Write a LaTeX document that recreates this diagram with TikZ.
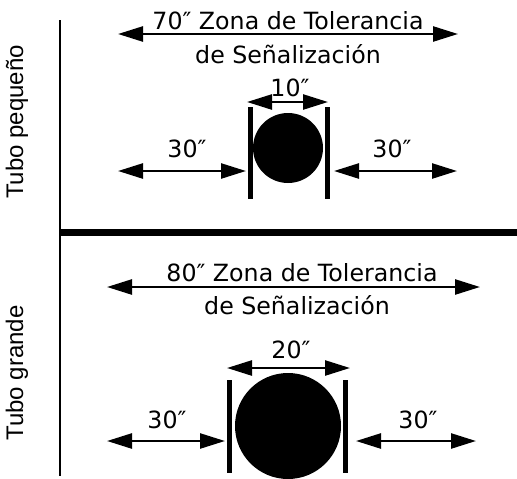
\documentclass[tikz,border=0pt]{standalone}
\usepackage{fontspec}
\setmainfont{DejaVu Sans}
\newfontfamily\labelfont{Liberation Sans}
\usetikzlibrary{arrows.meta}
\newcommand{\dprime}{″}
\begin{document}
\begin{tikzpicture}[x=1pt,y=-1pt,
  dim/.style={line width=2.5pt,{Triangle[length=25pt,width=15pt]}-{Triangle[length=25pt,width=15pt]}},
  bar/.style={line width=5pt},
  lbl/.style={font=\fontsize{23.7}{28}\selectfont,inner sep=0pt,anchor=base},
  side/.style={font=\labelfont\fontsize{24}{28}\selectfont,inner sep=0pt,rotate=90},
  pipe/.style={fill=black,draw=none}]
\useasboundingbox (0,0) rectangle (517,479);
% frame
\coordinate (vt) at (60,20);
\coordinate (vb) at (60,476);
\coordinate (hl) at (60,232);
\coordinate (hr) at (517,232);
\draw[line width=2.5pt] (vt) -- (vb);
\draw[line width=7pt] (hl) -- (hr);
\node[side] (tp) at (17,122) {Tubo pequeño};
\node[side] (tg) at (17,373) {Tubo grande};
% ---- top section ----
\node[lbl] (t1) at (288,29) {70\dprime{} Zona de Tolerancia};
\node[lbl] (t2) at (288,63) {de Señalización};
\coordinate (ta) at (118,34); \coordinate (tb) at (458,34);
\draw[dim] (ta) -- (tb);
\node[lbl] (t10) at (290,96) {10\dprime};
\coordinate (sa) at (247,102); \coordinate (sb) at (328,102);
\draw[dim] (sa) -- (sb);
\coordinate (bl1) at (250,107); \coordinate (bl2) at (250,199);
\coordinate (br1) at (327,107); \coordinate (br2) at (327,199);
\draw[bar] (bl1) -- (bl2);
\draw[bar] (br1) -- (br2);
\node[pipe,circle,minimum size=70pt,inner sep=0pt] (c1) at (288,148) {};
\node[lbl] (l30a) at (187,157) {30\dprime};
\coordinate (la1) at (118,171); \coordinate (la2) at (246,171);
\draw[dim] (la1) -- (la2);
\node[lbl] (r30a) at (392,157) {30\dprime};
\coordinate (ra1) at (334,171); \coordinate (ra2) at (457,171);
\draw[dim] (ra1) -- (ra2);
% ---- bottom section ----
\node[lbl] (b1) at (302,281) {80\dprime{} Zona de Tolerancia};
\node[lbl] (b2) at (297,314) {de Señalización};
\coordinate (ba) at (107,287); \coordinate (bb) at (480,287);
\draw[dim] (ba) -- (bb);
\node[lbl] (t20) at (291,358) {20\dprime};
\coordinate (ga) at (227,368); \coordinate (gb) at (350,368);
\draw[dim] (ga) -- (gb);
\coordinate (gl1) at (229,380); \coordinate (gl2) at (229,473);
\coordinate (gr1) at (345,380); \coordinate (gr2) at (345,473);
\draw[bar] (gl1) -- (gl2);
\draw[bar] (gr1) -- (gr2);
\node[pipe,circle,minimum size=106pt,inner sep=0pt] (c2) at (288,426) {};
\node[lbl] (l30b) at (167,428) {30\dprime};
\coordinate (lb1) at (107,441); \coordinate (lb2) at (225,441);
\draw[dim] (lb1) -- (lb2);
\node[lbl] (r30b) at (418,428) {30\dprime};
\coordinate (rb1) at (356,441); \coordinate (rb2) at (476,441);
\draw[dim] (rb1) -- (rb2);
\end{tikzpicture}
\end{document}
